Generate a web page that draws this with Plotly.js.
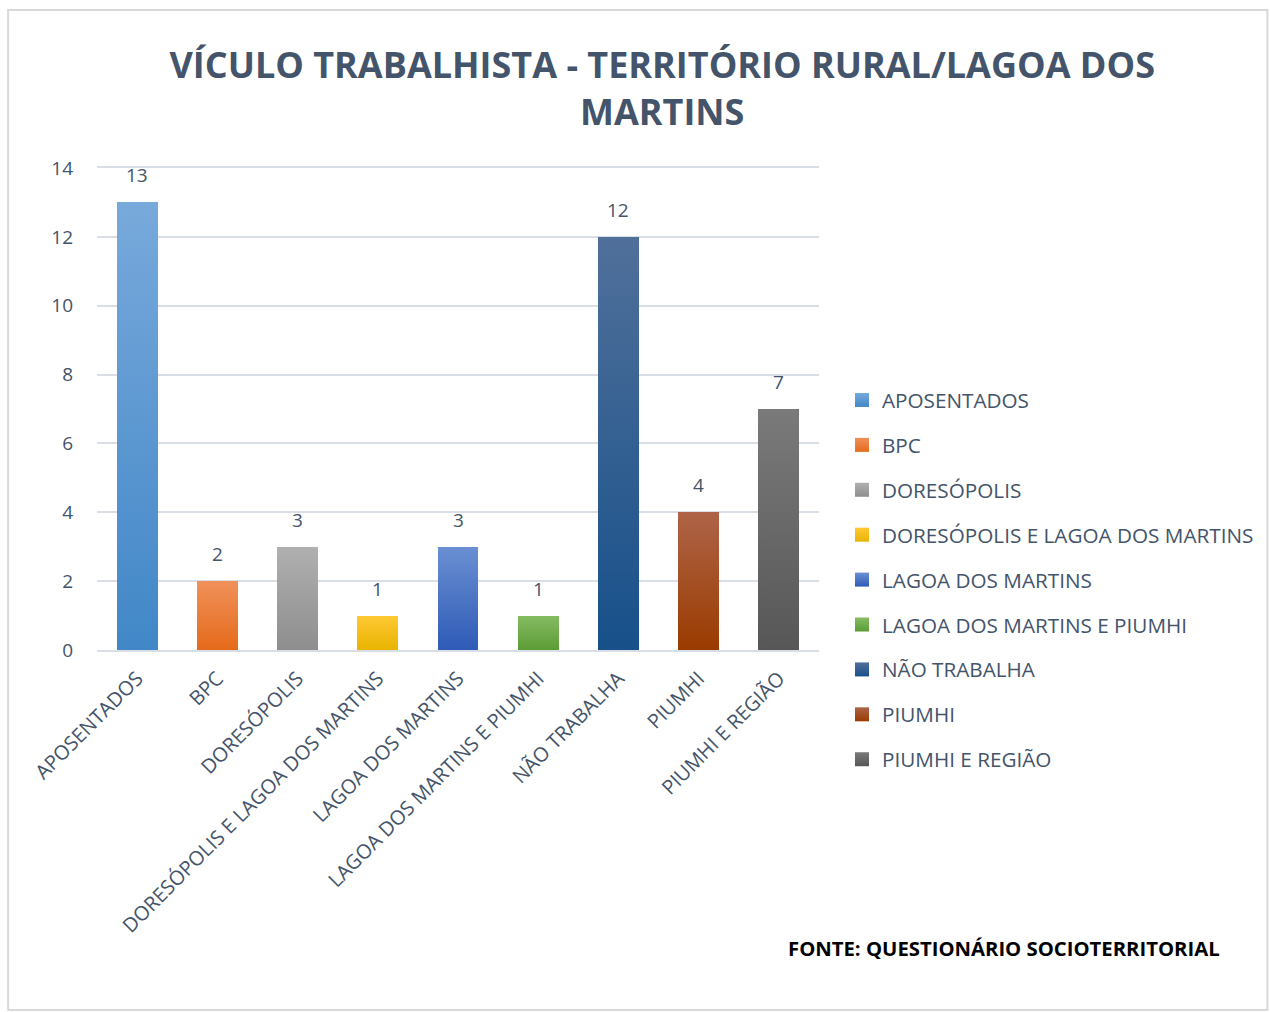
<!DOCTYPE html>
<html>
<head>
<meta charset="utf-8">
<script src="https://cdn.plot.ly/plotly-3.0.1.min.js"></script>
<style>
html,body{margin:0;padding:0;background:#fff;}
#chart{width:1270px;height:1012px;}
</style>
</head>
<body>
<div id="chart"></div>
<script>
const categories = ["APOSENTADOS","BPC","DORESÓPOLIS","DORESÓPOLIS E LAGOA DOS MARTINS","LAGOA DOS MARTINS","LAGOA DOS MARTINS E PIUMHI","NÃO TRABALHA","PIUMHI","PIUMHI E REGIÃO"];
const values = [13,2,3,1,3,1,12,4,7];
const colors = ["#5B9BD5","#ED7D31","#A5A5A5","#FFC000","#4472C4","#70AD47","#255E91","#9E480E","#636363"];
const colorsTop = ["#78A9DB","#F0915A","#B0B0B0","#FFC935","#6A8FD2","#85BC63","#50709A","#AE6448","#7A7A7A"];
const colorsBottom = ["#4187C7","#E56A1B","#8E8E8E","#E8B400","#2F5BB7","#5C9C35","#17508A","#9A3B00","#575757"];
const yTicks = [0,2,4,6,8,10,12,14];
const titleText = "VÍCULO TRABALHISTA - TERRITÓRIO RURAL/LAGOA DOS<br>MARTINS";
const sourceText = "FONTE: QUESTIONÁRIO SOCIOTERRITORIAL";

const FONT = "Open Sans, Noto Sans, sans-serif";
const TXT = "#44546A";

const traces = categories.map((c,i)=>({
  type:"bar",
  name:c,
  x:[c],
  y:[values[i]],
  marker:{color:colors[i]},
  legendgroup:"g"+i,
  hoverinfo:"x+y"
}));

const L=97,R=820,T=168,B=650,W=1270,H=1012;
const pw=R-L, ph=B-T;
const px=v=>(v-L)/pw, py=v=>(B-v)/ph;

const labelAnns = categories.map((c,i)=>({
  x:c,y:values[i],xref:"x",yref:"y",text:String(values[i]),showarrow:false,
  yanchor:"bottom",yshift:12,font:{family:FONT,size:19,color:TXT}
}));

const layout = {
  width:W,height:H,
  margin:{l:L,r:W-R,t:T,b:H-B,pad:0},
  paper_bgcolor:"#fff",plot_bgcolor:"#fff",
  barmode:"stack",
  bargap:0.49,
  showlegend:true,
  font:{family:FONT,color:TXT},
  title:{text:titleText,font:{family:FONT,size:36,color:TXT,weight:"bold"},
    xref:"paper",x:px(663),xanchor:"center",yref:"container",y:1-78/H,yanchor:"top"},
  xaxis:{type:"category",categoryorder:"array",categoryarray:categories,
    tickangle:-45,tickfont:{family:FONT,size:20,color:TXT},ticklabelstandoff:7,
    showline:true,mirror:true,linecolor:"#D9DEE6",linewidth:2,ticks:"",showgrid:false,zeroline:false},
  yaxis:{range:[0,14],tickvals:yTicks,ticktext:yTicks.map(String),
    tickfont:{family:FONT,size:19,color:TXT},showgrid:true,gridcolor:"#D9DEE6",gridwidth:2,
    zeroline:false,showline:false,ticks:"",ticklabelstandoff:23},
  legend:{x:px(842),xanchor:"left",y:py(380),yanchor:"top",
    font:{family:FONT,size:20.7,color:TXT},tracegroupgap:15,itemwidth:30,bgcolor:"rgba(0,0,0,0)"},
  shapes:[{type:"rect",xref:"paper",yref:"paper",x0:px(8),x1:px(1269),y0:py(1010),y1:py(10),
    line:{color:"#D9D9D9",width:2},fillcolor:"rgba(0,0,0,0)",layer:"below"}],
  annotations:labelAnns.concat([{text:sourceText,xref:"paper",yref:"paper",x:px(1224),xanchor:"right",
    y:py(948),yanchor:"middle",showarrow:false,font:{family:FONT,size:20.3,color:"#000",weight:"bold"}}])
};

function applyGradients(gd){
  const svg = gd.querySelector("svg.main-svg");
  if(!svg) return;
  const NS="http://www.w3.org/2000/svg";
  let defs = svg.querySelector("defs#barGrads");
  if(!defs){
    defs=document.createElementNS(NS,"defs");defs.setAttribute("id","barGrads");
    svg.insertBefore(defs,svg.firstChild);
    categories.forEach((c,i)=>{
      const g=document.createElementNS(NS,"linearGradient");
      g.setAttribute("id","bg"+i);g.setAttribute("x1","0");g.setAttribute("y1","0");
      g.setAttribute("x2","0");g.setAttribute("y2","1");
      [[0,colorsTop[i]],[1,colorsBottom[i]]].forEach(([o,col])=>{
        const s=document.createElementNS(NS,"stop");s.setAttribute("offset",o);s.setAttribute("stop-color",col);g.appendChild(s);
      });
      defs.appendChild(g);
    });
  }
  gd.querySelectorAll(".barlayer .trace").forEach((t,i)=>{
    t.querySelectorAll("path").forEach(p=>{p.style.fill="url(#bg"+i+")";});
  });
  gd.querySelectorAll(".legend .traces").forEach((t,i)=>{
    t.querySelectorAll(".legendpoints path").forEach(p=>{
      p.setAttribute("d","M7,7H-7V-7H7Z");
      p.style.fill="url(#bg"+i+")";
    });
  });
}

Plotly.newPlot("chart",traces,layout,{displayModeBar:false,staticPlot:true}).then(gd=>{applyGradients(gd);});
</script>
</body>
</html>
